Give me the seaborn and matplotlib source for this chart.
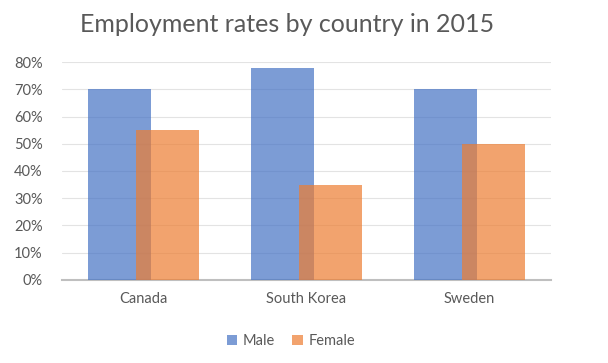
import pandas as pd
import seaborn as sns
import matplotlib.pyplot as plt
from matplotlib.ticker import PercentFormatter

# Data -----
countries = ["Canada", "South Korea", "Sweden"]
male = [0.70, 0.78, 0.70]
female = [0.55, 0.35, 0.50]

df = pd.DataFrame({
    "Country": countries * 2,
    "Gender": ["Male"] * 3 + ["Female"] * 3,
    "Rate": male + female,
})

sns.set_theme(style="white")
plt.rcParams["font.family"] = ["Lato", "DejaVu Sans"]

fig = plt.figure(figsize=(6.08, 3.63), dpi=100)
ax = fig.add_axes([0.102, 0.229, 0.804, 0.600])

palette = {"Male": "#4472C4", "Female": "#ED7D31"}
sns.barplot(data=df, x="Country", y="Rate", hue="Gender", palette=palette,
            width=0.588, dodge=True, alpha=0.7, saturation=1, linewidth=0,
            ax=ax, zorder=3)

# widen bars so they overlap like the original
bar_w = 0.39
for p in ax.patches:
    if p.get_height() > 0:
        cx = p.get_x() + p.get_width() / 2
        p.set_width(bar_w)
        p.set_x(cx - bar_w / 2)

ax.set_ylim(0, 0.8)
ax.set_xlim(-0.5, 2.5)
ax.yaxis.set_major_formatter(PercentFormatter(1.0, decimals=0))
ax.set_yticks([i / 10 for i in range(9)])
ax.grid(axis="y", color="#E3E3E3", linewidth=0.8, zorder=0)
ax.set_xlabel("")
ax.set_ylabel("")
for s in ["top", "right", "left"]:
    ax.spines[s].set_visible(False)
ax.spines["bottom"].set_color("#BFBFBF")
ax.spines["bottom"].set_linewidth(1.5)
ax.tick_params(axis="both", length=0, labelsize=10.5, colors="#595959")
ax.tick_params(axis="y", pad=14)
ax.tick_params(axis="x", pad=9)

fig.text(0.472, 1 - 32 / 363, "Employment rates by country in 2015",
         fontsize=18, color="#595959", ha="center", va="baseline")

handles, labels = ax.get_legend_handles_labels()
ax.legend(handles, labels, loc="upper center", bbox_to_anchor=(0.468, -0.19),
          ncol=2, frameon=False, fontsize=10.5, handlelength=0.7, handleheight=0.7,
          columnspacing=1.2, handletextpad=0.4, labelcolor="#595959")

fig.savefig("out.png", dpi=100)
